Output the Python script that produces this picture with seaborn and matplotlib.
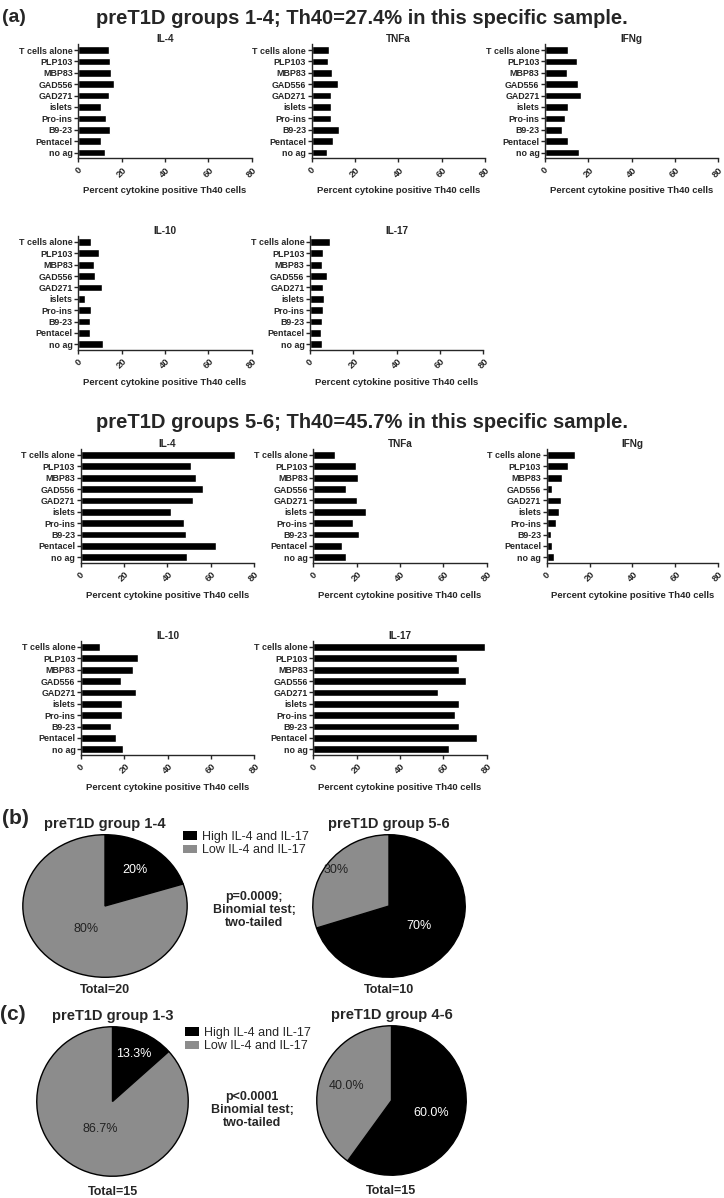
import matplotlib
matplotlib.use('Agg')
import matplotlib.pyplot as plt
from matplotlib.patches import Patch
import numpy as np
import seaborn as sns

# antigens on the y axis (top to bottom)
antigens = ['T cells alone', 'PLP103', 'MBP83', 'GAD556', 'GAD271',
            'islets', 'Pro-ins', 'B9-23', 'Pentacel', 'no ag']

# percent cytokine positive Th40 cells, preT1D groups 1-4
g14_il4 = [14.2, 14.5, 14.9, 16.6, 14.3, 10.5, 12.8, 14.8, 10.6, 12.5]
g14_tnfa = [7.8, 7.4, 9.5, 12.2, 9.1, 9.1, 9.1, 12.6, 9.7, 7.1]
g14_ifng = [10.8, 14.8, 10.2, 15.2, 16.8, 10.5, 9.2, 8.0, 10.8, 15.5]
g14_il10 = [5.9, 9.5, 7.2, 7.7, 10.8, 3.1, 5.7, 5.5, 5.4, 11.2]
g14_il17 = [9.2, 6.0, 5.5, 8.0, 6.2, 6.5, 6.2, 5.5, 5.1, 5.5]

# preT1D groups 5-6
g56_il4 = [71.2, 50.9, 53.2, 56.5, 52.0, 41.5, 47.5, 48.8, 62.6, 49.2]
g56_tnfa = [10.0, 19.7, 20.6, 15.1, 20.0, 24.3, 18.5, 21.2, 13.2, 15.1]
g56_ifng = [13.0, 9.8, 7.0, 2.4, 6.8, 5.7, 4.3, 1.8, 2.5, 3.4]
g56_il10 = [8.8, 26.3, 24.0, 18.5, 25.4, 18.9, 18.9, 13.8, 16.0, 19.4]
g56_il17 = [79.2, 66.3, 67.2, 70.5, 57.5, 67.2, 65.4, 67.2, 75.7, 62.8]

xticks = [0, 20, 40, 60, 80]

# pie data: counts of high / low IL-4 and IL-17 subjects
pie_labels = ['High IL-4 and IL-17', 'Low IL-4 and IL-17']
b_g14 = [4, 16]
b_g56 = [7, 3]
c_g13 = [2, 13]
c_g46 = [9, 6]

sns.set_style('ticks')
plt.rcParams['font.family'] = ['Liberation Sans', 'DejaVu Sans']

W, H = 724, 1198
fig = plt.figure(figsize=(W / 100, H / 100), dpi=100)


def px_axes(x0, x1, y0, y1):
    return fig.add_axes([x0 / W, 1 - y1 / H, (x1 - x0) / W, (y1 - y0) / H])


def bar_panel(vals, title, x0, x1, y0, y1):
    ax = px_axes(x0, x1, y0, y1)
    sns.barplot(x=vals, y=antigens, orient='h', color='black', saturation=1,
                width=0.68, ax=ax)
    ax.set_xlim(0, 80)
    ax.set_ylim(9.5, -0.5)
    ax.set_xticks(xticks)
    ax.set_xticklabels([str(t) for t in xticks], rotation=45, ha='center',
                       fontsize=6.8, fontweight='bold')
    ax.set_yticks(range(len(antigens)))
    ax.set_yticklabels(antigens, fontsize=6.4, fontweight='bold')
    ax.tick_params(axis='y', length=3, width=1, pad=1)
    ax.tick_params(axis='x', length=3, width=1, pad=2)
    for s in ['left', 'bottom']:
        ax.spines[s].set_linewidth(1.0)
    sns.despine(ax=ax)
    ax.set_ylabel('')
    ax.set_xlabel('Percent cytokine positive Th40 cells', fontsize=6.8,
                  fontweight='bold', labelpad=5)
    ax.set_title(title, fontsize=7.2, fontweight='bold', pad=2)
    return ax


# (a) section
fig.text(2 / W, 1 - 18 / H, '(a)', fontsize=14, fontweight='bold', va='center')
fig.text(362 / W, 1 - 18 / H, 'preT1D groups 1-4; Th40=27.4% in this specific sample.',
         fontsize=14.5, fontweight='bold', ha='center', va='center')
bar_panel(g14_il4, 'IL-4', 78.3, 251.7, 44.3, 158.3)
bar_panel(g14_tnfa, 'TNFa', 311.7, 485, 44.3, 158.3)
bar_panel(g14_ifng, 'IFNg', 545, 718, 44.3, 158.3)
bar_panel(g14_il10, 'IL-10', 78.3, 251.7, 236.3, 350)
bar_panel(g14_il17, 'IL-17', 310, 483.3, 236.3, 350)

fig.text(362 / W, 1 - 423 / H, 'preT1D groups 5-6; Th40=45.7% in this specific sample.',
         fontsize=14.5, fontweight='bold', ha='center', va='center')
bar_panel(g56_il4, 'IL-4', 80.7, 254, 449.3, 563)
bar_panel(g56_tnfa, 'TNFa', 313.3, 486.7, 449.3, 563)
bar_panel(g56_ifng, 'IFNg', 546.7, 718, 449.3, 563)
bar_panel(g56_il10, 'IL-10', 81, 254.3, 641.3, 755)
bar_panel(g56_il17, 'IL-17', 313.3, 486.7, 641.3, 755)

pie_colors = ['black', '#8c8c8c']


def pie_panel(counts, box, title, total_y, fmt, dists):
    x0, x1, y0, y1 = box
    ax = px_axes(x0, x1, y0, y1)
    wedges, _, autotexts = ax.pie(counts, colors=pie_colors, startangle=90,
                                  counterclock=False, autopct=fmt,
                                  wedgeprops=dict(edgecolor='black', linewidth=1.0),
                                  textprops=dict(fontsize=9))
    for w, t, d, c in zip(wedges, autotexts, dists, ['white', '#222222']):
        ang = np.deg2rad((w.theta1 + w.theta2) / 2)
        t.set_position((d * np.cos(ang), d * np.sin(ang)))
        t.set_color(c)
    ax.set_aspect('auto')
    ax.set_xlim(-1.01, 1.01)
    ax.set_ylim(-1.01, 1.01)
    cx = (x0 + x1) / 2
    fig.text(cx / W, 1 - (y0 - 10) / H, title, fontsize=10.5, fontweight='bold',
             ha='center', va='center')
    fig.text(cx / W, 1 - total_y / H, 'Total=%d' % sum(counts), fontsize=9,
             fontweight='bold', ha='center', va='center')
    return ax


handles = [Patch(facecolor=c, edgecolor='none') for c in pie_colors]

# (b) section
fig.text(2 / W, 1 - 818 / H, '(b)', fontsize=15, fontweight='bold', va='center')
pie_panel(b_g14, (22, 188, 834, 978), 'preT1D group 1-4', 990, '%1.0f%%', [0.62, 0.40])
pie_panel(b_g56, (312, 466, 834, 978), 'preT1D group 5-6', 990, '%1.0f%%', [0.48, 0.85])
fig.legend(handles, pie_labels, loc='upper left', bbox_to_anchor=(183 / W, 1 - 831 / H),
           frameon=False, fontsize=9, handlelength=1.1, handleheight=0.7,
           handletextpad=0.4, labelspacing=0.1, borderaxespad=0, borderpad=0)
fig.text(254 / W, 1 - 910 / H, 'p=0.0009;\nBinomial test;\ntwo-tailed', fontsize=9,
         fontweight='bold', ha='center', va='center', linespacing=1.15)

# (c) section
fig.text(0, 1 - 1015 / H, '(c)', fontsize=15, fontweight='bold', va='center')
pie_panel(c_g13, (36, 189, 1026, 1177), 'preT1D group 1-3', 1192, '%1.1f%%', [0.70, 0.41])
pie_panel(c_g46, (316, 467, 1025, 1176), 'preT1D group 4-6', 1191, '%1.1f%%', [0.56, 0.63])
fig.legend(handles, pie_labels, loc='upper left', bbox_to_anchor=(185 / W, 1 - 1027 / H),
           frameon=False, fontsize=9, handlelength=1.1, handleheight=0.7,
           handletextpad=0.4, labelspacing=0.1, borderaxespad=0, borderpad=0)
fig.text(252 / W, 1 - 1110 / H, 'p<0.0001\nBinomial test;\ntwo-tailed', fontsize=9,
         fontweight='bold', ha='center', va='center', linespacing=1.15)

fig.savefig('out.png', dpi=100)
